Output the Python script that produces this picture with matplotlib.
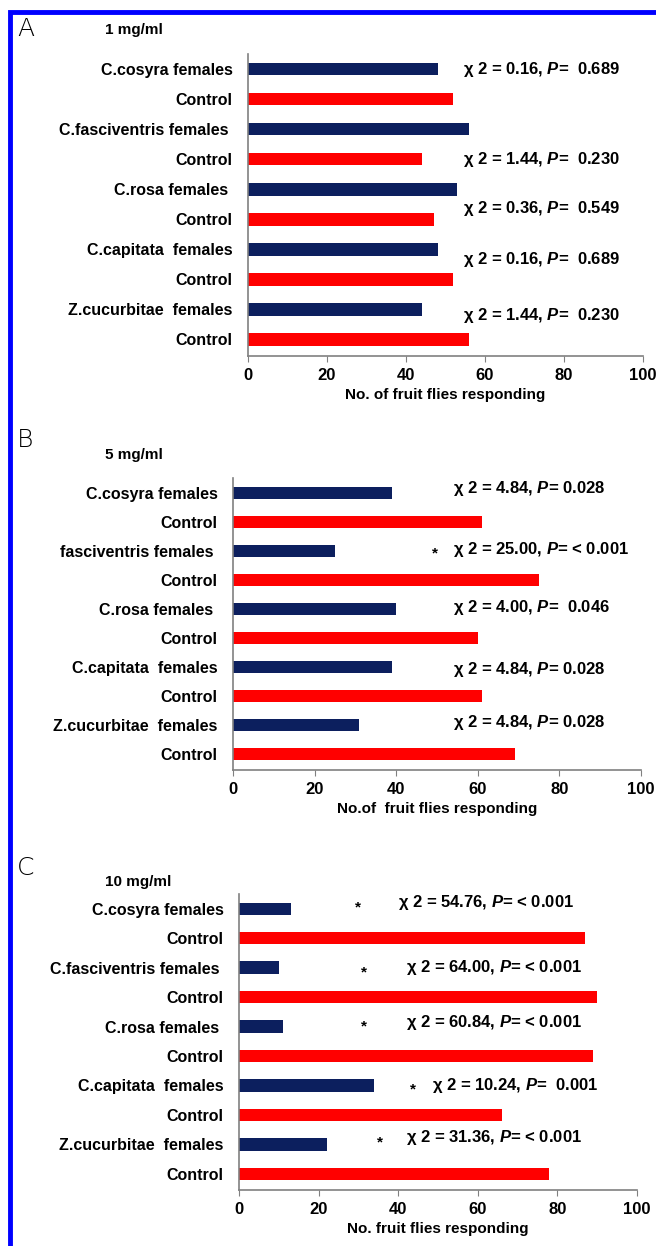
import matplotlib.pyplot as plt
from matplotlib.patches import Rectangle

plt.rcParams['font.family'] = ['Liberation Sans', 'DejaVu Sans']
plt.rcParams['mathtext.fontset'] = 'custom'
plt.rcParams['mathtext.it'] = 'Liberation Sans:italic:bold'
plt.rcParams['mathtext.rm'] = 'Liberation Sans:bold'

NAVY = '#0c1f5e'
RED = '#ff0000'

# categories, top to bottom
labels_a = ['C.cosyra females', 'Control', 'C.fasciventris females ', 'Control',
            'C.rosa females ', 'Control', 'C.capitata  females', 'Control',
            'Z.cucurbitae  females', 'Control']
labels_b = ['C.cosyra females', 'Control', 'fasciventris females ', 'Control',
            'C.rosa females ', 'Control', 'C.capitata  females', 'Control',
            'Z.cucurbitae  females', 'Control']
labels_c = ['C.cosyra females', 'Control', 'C.fasciventris females ', 'Control',
            'C.rosa females ', 'Control', 'C.capitata  females', 'Control',
            'Z.cucurbitae  females', 'Control']

values_a = [48, 52, 56, 44, 53, 47, 48, 52, 44, 56]
values_b = [39, 61, 25, 75, 40, 60, 39, 61, 31, 69]
values_c = [13, 87, 10, 90, 11, 89, 34, 66, 22, 78]

# chi-square annotations: (text, x, y, star x or None)
stats_a = [(r'χ 2 = 0.16, $P$=  0.689', 54.5, 0.0, None),
           (r'χ 2 = 1.44, $P$=  0.230', 54.5, 3.0, None),
           (r'χ 2 = 0.36, $P$=  0.549', 54.5, 4.65, None),
           (r'χ 2 = 0.16, $P$=  0.689', 54.5, 6.33, None),
           (r'χ 2 = 1.44, $P$=  0.230', 54.5, 8.2, None)]
stats_b = [(r'χ 2 = 4.84, $P$= 0.028', 54, -0.15, None),
           (r'χ 2 = 25.00, $P$= < 0.001', 54, 1.95, 49.5),
           (r'χ 2 = 4.00, $P$=  0.046', 54, 3.95, None),
           (r'χ 2 = 4.84, $P$= 0.028', 54, 6.1, None),
           (r'χ 2 = 4.84, $P$= 0.028', 54, 7.9, None)]
stats_c = [(r'χ 2 = 54.76, $P$= < 0.001', 40, -0.2, 30),
           (r'χ 2 = 64.00, $P$= < 0.001', 42, 2.0, 31.4),
           (r'χ 2 = 60.84, $P$= < 0.001', 42, 3.85, 31.4),
           (r'χ 2 = 10.24, $P$=  0.001', 48.4, 6.0, 43.7),
           (r'χ 2 = 31.36, $P$= < 0.001', 42, 7.78, 35.3)]

panels = [
    ('A', '1 mg/ml', labels_a, values_a, stats_a, 'No. of fruit flies responding',
     [248 / 656, 1 - 356 / 1246, 395 / 656, 302 / 1246], 29, 30),
    ('B', '5 mg/ml', labels_b, values_b, stats_b, 'No.of  fruit flies responding',
     [233 / 656, 1 - 770 / 1246, 408 / 656, 291.5 / 1246], 440, 455),
    ('C', '10 mg/ml', labels_c, values_c, stats_c, 'No. fruit flies responding',
     [239 / 656, 1 - 1190 / 1246, 398 / 656, 296 / 1246], 868, 882),
]

fig = plt.figure(figsize=(6.56, 12.46), dpi=100)

# blue frame, open on right and bottom
fig.patches.append(Rectangle((10 / 656, -0.1), 1.2, 1 - 12 / 1246 + 0.1,
                             transform=fig.transFigure, fill=False,
                             edgecolor='#0000ff', linewidth=3.5))

for letter, conc, labels, values, stats, xlabel, rect, ly, cy in panels:
    ax = fig.add_axes(rect)
    ypos = range(len(values))
    colors = [NAVY if i % 2 == 0 else RED for i in ypos]
    ax.barh(ypos, values, height=0.42, color=colors)
    ax.set_xlim(0, 100)
    ax.set_ylim(len(values) - 0.45, -0.5)
    ax.set_yticks(list(ypos))
    ax.set_yticklabels(labels, fontsize=11.5, fontweight='bold')
    ax.set_xticks(range(0, 101, 20))
    ax.tick_params(axis='x', labelsize=12, length=4, color='#808080', pad=5)
    ax.tick_params(axis='y', length=0, pad=11)
    for t in ax.get_xticklabels():
        t.set_fontweight('bold')
    for s in ['top', 'right']:
        ax.spines[s].set_visible(False)
    for s in ['left', 'bottom']:
        ax.spines[s].set_color('#808080')
        ax.spines[s].set_linewidth(1.2)
    ax.set_xlabel(xlabel, fontsize=11, fontweight='bold', labelpad=3)

    for txt, x, y, sx in stats:
        ax.text(x, y, txt, fontsize=12, fontweight='bold', va='center', ha='left')
        if sx is not None:
            ax.text(sx, y + 0.15, '*', fontsize=11, fontweight='bold',
                    va='center', ha='center')

    fig.text(17 / 656, 1 - ly / 1246, letter, fontsize=18, va='center',
             ha='left', family='DejaVu Sans', fontweight='light')
    fig.text(105 / 656, 1 - cy / 1246, conc, fontsize=11, fontweight='bold',
             va='center', ha='left')

fig.savefig('out.png', dpi=100)
